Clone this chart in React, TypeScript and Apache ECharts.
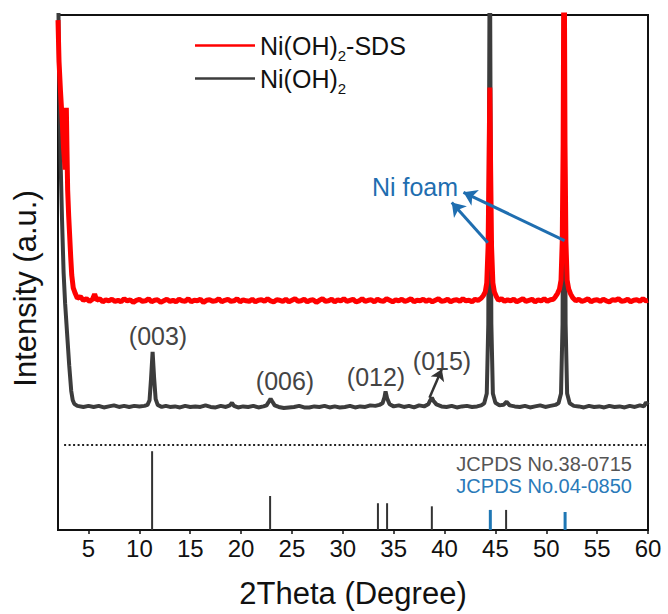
import React, { useEffect, useRef } from "react";
import * as echarts from "echarts";

const FONT = '"Liberation Sans", Arial, sans-serif';

const xTicks = [5, 10, 15, 20, 25, 30, 35, 40, 45, 50, 55, 60];

const sdsName = "Ni(OH)2-SDS";
const plainName = "Ni(OH)2";

// Ni(OH)2 pattern (2theta, intensity a.u.)
const niohPattern: [number, number][] = [
  [2.0, 110], [2.1, 90], [2.25, 72], [2.4, 60], [2.55, 50], [2.7, 44], [2.9, 38], [3.1, 32], [3.3, 27], [3.45, 25.2], [3.6, 24.5], [3.9, 24.1],
  [4.5, 23.9], [5.0, 24.1], [5.5, 23.9], [6.0, 24.1], [6.5, 23.8], [7.0, 24.0], [7.5, 24.2], [8.0, 23.9], [8.5, 24.1], [9.0, 23.9], [9.5, 24.1], [10.0, 24.0], [10.5, 24.1],
  [10.8, 24.3], [11.0, 25.2], [11.15, 29.5], [11.3, 34.6], [11.45, 29.5], [11.6, 25.4], [11.8, 24.3],
  [12.2, 23.9], [12.6, 24.1], [13.0, 23.9], [13.5, 24.0], [14.0, 23.8], [14.5, 24.1], [15.0, 23.9], [15.5, 24.0], [16.0, 23.9], [16.5, 24.2], [17.0, 23.9], [17.5, 23.8], [18.0, 24.1], [18.5, 23.9],
  [18.9, 24.2], [19.1, 24.7], [19.3, 24.1], [19.7, 23.8], [20.2, 24.0], [20.7, 23.9], [21.2, 24.1], [21.7, 23.8], [22.2, 24.0],
  [22.5, 24.2], [22.75, 25.0], [22.9, 25.5], [23.05, 25.0], [23.3, 24.2],
  [23.7, 23.9], [24.2, 23.7], [24.7, 23.8], [25.2, 23.9], [25.7, 24.1], [26.2, 23.8], [26.7, 23.8], [27.2, 24.0], [27.7, 23.9], [28.2, 24.1], [28.7, 23.8], [29.2, 24.0], [29.7, 23.8], [30.2, 23.9], [30.7, 24.1], [31.2, 23.8], [31.7, 24.0], [32.2, 23.9], [32.7, 24.2], [33.2, 24.1],
  [33.6, 24.3], [33.9, 24.6], [34.1, 25.8], [34.2, 26.9], [34.35, 25.6], [34.6, 24.4],
  [35.0, 24.0], [35.5, 24.2], [36.0, 23.9], [36.5, 24.1], [37.0, 23.8], [37.5, 24.2], [38.0, 24.0],
  [38.4, 24.4], [38.6, 25.2], [38.75, 25.7], [38.9, 25.1], [39.2, 24.4],
  [39.7, 24.0], [40.2, 23.9], [40.7, 24.1], [41.2, 23.8], [41.7, 24.0], [42.2, 24.1], [42.7, 23.9], [43.2, 24.0], [43.6, 24.2],
  [43.9, 24.6], [44.15, 26.5], [44.3, 40], [44.45, 120], [44.6, 40], [44.75, 26.5], [45.0, 24.7],
  [45.4, 24.2], [45.8, 24.3], [46.1, 24.9], [46.4, 24.2], [46.9, 24.0], [47.4, 23.9], [47.9, 24.1], [48.4, 23.8], [48.9, 24.0], [49.4, 24.2], [49.9, 23.9], [50.4, 24.1], [50.9, 24.3],
  [51.2, 24.6], [51.45, 26.5], [51.6, 40], [51.75, 120], [51.9, 40], [52.05, 26.5], [52.3, 24.6],
  [52.7, 24.1], [53.2, 24.0], [53.7, 23.8], [54.2, 24.1], [54.7, 23.9], [55.2, 24.0], [55.7, 23.8], [56.2, 24.1], [56.7, 23.9], [57.2, 24.0], [57.7, 23.8], [58.2, 24.1], [58.7, 23.9], [59.2, 24.2], [59.6, 24.0], [59.8, 24.8], [60.0, 24.3],
];

// Ni(OH)2-SDS pattern
const sdsPattern: [number, number][] = [
  [2.0, 99], [2.1, 91], [2.25, 85], [2.4, 80], [2.55, 74], [2.7, 70], [2.75, 77], [2.82, 82], [2.88, 74], [2.95, 66], [3.05, 61], [3.15, 57], [3.25, 53], [3.35, 49.5], [3.5, 47], [3.7, 45.9], [3.9, 45.0],
  [4.2, 45.3], [4.5, 44.6], [4.8, 44.9], [5.1, 44.4], [5.4, 44.8], [5.6, 45.8], [5.8, 44.6], [6.1, 44.9], [6.4, 44.3], [6.7, 44.7], [7.0, 44.5], [7.3, 44.8], [7.6, 44.4], [7.9, 44.6], [8.2, 44.3], [8.5, 44.9], [8.8, 44.5],
  [9.1, 44.7], [9.4, 44.2], [9.7, 44.6], [10.0, 44.8], [10.3, 44.4], [10.6, 44.5], [10.9, 44.9], [11.2, 44.3], [11.5, 44.6], [11.8, 44.7], [12.1, 44.2], [12.4, 44.5], [12.7, 44.8], [13.0, 44.4], [13.3, 44.6], [13.6, 44.3],
  [13.9, 44.8], [14.2, 44.5], [14.5, 44.4], [14.8, 44.9], [15.1, 44.3], [15.4, 44.6], [15.7, 44.5], [16.0, 44.8], [16.3, 44.2], [16.6, 44.6], [16.9, 44.7], [17.2, 44.4], [17.5, 44.5], [17.8, 44.9], [18.1, 44.3], [18.4, 44.6],
  [18.7, 44.8], [19.0, 44.4], [19.3, 44.5], [19.6, 44.9], [19.9, 44.3], [20.2, 44.7], [20.5, 44.5], [20.8, 44.4], [21.1, 44.8], [21.4, 44.3], [21.7, 44.6], [22.0, 44.7], [22.3, 44.4], [22.6, 44.9], [22.9, 44.5], [23.2, 44.3],
  [23.5, 44.7], [23.8, 44.6], [24.1, 44.4], [24.4, 44.8], [24.7, 44.3], [25.0, 44.6], [25.3, 44.9], [25.6, 44.4], [25.9, 44.5], [26.2, 44.8], [26.5, 44.3], [26.8, 44.6], [27.1, 44.7], [27.4, 44.2], [27.7, 44.6], [28.0, 44.9],
  [28.3, 44.4], [28.6, 44.5], [28.9, 44.8], [29.2, 44.3], [29.5, 44.7], [29.8, 44.5], [30.1, 44.9], [30.4, 44.4], [30.7, 44.6], [31.0, 44.8], [31.3, 44.3], [31.6, 44.5], [31.9, 44.9], [32.2, 44.4], [32.5, 44.6], [32.8, 44.7],
  [33.1, 44.3], [33.4, 44.8], [33.7, 44.5], [34.0, 44.4], [34.3, 44.9], [34.6, 44.6], [34.9, 44.3], [35.2, 44.7], [35.5, 44.5], [35.8, 44.8], [36.1, 44.4], [36.4, 44.6], [36.7, 44.9], [37.0, 44.3], [37.3, 44.6], [37.6, 44.5],
  [37.9, 44.8], [38.2, 44.4], [38.5, 44.7], [38.8, 44.3], [39.1, 44.6], [39.4, 44.9], [39.7, 44.4], [40.0, 44.5], [40.3, 44.8], [40.6, 44.3], [40.9, 44.6], [41.2, 44.7], [41.5, 44.4], [41.8, 44.9], [42.1, 44.5], [42.4, 44.6],
  [42.7, 44.3], [43.0, 44.8], [43.3, 44.6], [43.6, 45.0], [43.8, 45.5], [44.0, 46.2], [44.15, 48.0], [44.28, 55], [44.37, 70], [44.45, 85.9], [44.53, 70], [44.62, 55], [44.75, 48.0], [44.9, 46.2], [45.1, 45.3],
  [45.3, 44.6], [45.6, 44.9], [45.9, 44.4], [46.2, 44.7], [46.5, 44.5], [46.8, 44.8], [47.1, 44.3], [47.4, 44.6], [47.7, 44.9], [48.0, 44.4], [48.3, 44.6], [48.6, 44.8], [48.9, 44.3], [49.2, 44.7], [49.5, 44.5], [49.8, 44.9],
  [50.1, 44.4], [50.4, 44.7], [50.7, 44.8], [50.9, 45.3], [51.1, 45.9], [51.3, 46.8], [51.45, 48.5], [51.57, 56], [51.66, 75], [51.75, 120], [51.84, 75], [51.93, 56], [52.05, 48.5], [52.2, 46.8], [52.4, 45.8], [52.6, 45.1],
  [52.9, 44.5], [53.2, 44.8], [53.5, 44.4], [53.8, 44.6], [54.1, 44.9], [54.4, 44.3], [54.7, 44.6], [55.0, 44.7], [55.3, 44.4], [55.6, 44.8], [55.9, 44.5], [56.2, 44.3], [56.5, 44.7], [56.8, 44.6], [57.1, 44.9], [57.4, 44.4],
  [57.7, 44.5], [58.0, 44.8], [58.3, 44.3], [58.6, 44.6], [58.9, 44.7], [59.2, 44.4], [59.5, 44.9], [59.8, 44.5], [60.0, 44.6],
];

// Reference sticks (2theta, relative height)
const jcpds380715: [number, number][] = [
  [11.3, 15.3], [22.9, 6.6], [33.5, 5.2], [34.4, 5.2], [38.8, 4.6], [46.1, 3.9],
];
const jcpds040850: [number, number][] = [
  [44.5, 3.9], [51.85, 3.5],
];

const separatorLevel = 16.6;

export default function App() {
  const ref = useRef<HTMLDivElement>(null);
  useEffect(() => {
    if (!ref.current) return;
    const chart = echarts.init(ref.current, undefined, { renderer: "svg" });
    const grey = "#3c3c3c";
    const blue = "#1f6eb0";
    const option: any = {
      animation: false,
      backgroundColor: "#fff",
      grid: {
        left: 58, right: 20, top: 15, bottom: 82,
        show: true, borderColor: "#111", borderWidth: 2, backgroundColor: "transparent",
      },
      legend: {
        data: [sdsName, plainName],
        orient: "vertical",
        left: 190,
        top: 28,
        itemWidth: 60,
        itemHeight: 14,
        itemGap: 3,
        icon: "path://M0,6L60,6L60,8.5L0,8.5Z",
        formatter: (name: string) =>
          name === sdsName ? "{a|Ni(OH)}{s|2}{a|-SDS}" : "{a|Ni(OH)}{s|2}",
        textStyle: {
          rich: {
            a: { fontSize: 25, fontFamily: FONT, color: "#111" },
            s: { fontSize: 15, fontFamily: FONT, color: "#111", padding: [20, 0, 0, 0] },
          },
        },
      },
      xAxis: {
        type: "value",
        min: 2,
        max: 60,
        name: "2Theta (Degree)",
        nameLocation: "middle",
        nameGap: 48,
        nameTextStyle: { fontSize: 31, fontFamily: FONT, color: "#111" },
        axisLine: { show: true, onZero: false, lineStyle: { color: "#111", width: 2 } },
        axisTick: { show: true, length: 4, customValues: xTicks, lineStyle: { color: "#111", width: 1.5 } },
        axisLabel: { customValues: xTicks, fontSize: 24, fontFamily: FONT, color: "#111", margin: 6 },
        splitLine: { show: false },
      },
      yAxis: {
        type: "value",
        min: 0,
        max: 100,
        name: "Intensity (a.u.)",
        nameLocation: "middle",
        nameGap: 17,
        nameTextStyle: { fontSize: 31, fontFamily: FONT, color: "#111", padding: [0, 32, 0, 0] },
        axisLine: { show: true, lineStyle: { color: "#111", width: 2 } },
        axisTick: { show: false },
        axisLabel: { show: false },
        splitLine: { show: false },
      },
      series: [
        {
          name: plainName,
          type: "line",
          data: niohPattern,
          symbol: "none",
          lineStyle: { color: grey, width: 4 },
          itemStyle: { color: grey },
          z: 2,
          markLine: {
            silent: true,
            symbol: ["none", "none"],
            label: { show: false },
            data: [
              [
                { coord: [2.6, separatorLevel], lineStyle: { color: "#222", width: 2, type: [2, 2.5] } },
                { coord: [59.8, separatorLevel] },
              ],
              [
                { coord: [38.52, 25.7], symbol: "none", lineStyle: { color: "#333", width: 2.5, type: "solid" } },
                { coord: [39.73, 31.2], symbol: "arrow", symbolSize: 11 },
              ],
            ],
          },
        },
        {
          name: sdsName,
          type: "line",
          data: sdsPattern,
          symbol: "none",
          lineStyle: { color: "#ff0000", width: 5 },
          itemStyle: { color: "#ff0000" },
          z: 3,
          markLine: {
            silent: true,
            symbol: ["none", "arrow"],
            symbolSize: 13,
            label: { show: false },
            lineStyle: { color: blue, width: 3, type: "solid" },
            data: [
              [{ coord: [44.25, 55.8] }, { coord: [40.71, 63.6] }],
              [{ coord: [51.8, 56.2] }, { coord: [41.86, 65.57] }],
            ],
          },
        },
        {
          name: "JCPDS No.38-0715",
          type: "bar",
          data: jcpds380715,
          barWidth: 2,
          barGap: "-100%",
          itemStyle: { color: "#333" },
        },
        {
          name: "JCPDS No.04-0850",
          type: "bar",
          data: jcpds040850,
          barWidth: 3,
          barGap: "-100%",
          itemStyle: { color: "#1f77b4" },
        },
      ],
      graphic: [
        { type: "text", x: 158, y: 336, style: { text: "(003)", fill: "#444", fontSize: 25, fontFamily: FONT, align: "center", verticalAlign: "middle" } },
        { type: "text", x: 285, y: 381, style: { text: "(006)", fill: "#444", fontSize: 25, fontFamily: FONT, align: "center", verticalAlign: "middle" } },
        { type: "text", x: 376, y: 377, style: { text: "(012)", fill: "#444", fontSize: 25, fontFamily: FONT, align: "center", verticalAlign: "middle" } },
        { type: "text", x: 442, y: 361, style: { text: "(015)", fill: "#444", fontSize: 25, fontFamily: FONT, align: "center", verticalAlign: "middle" } },
        { type: "text", x: 415, y: 187, style: { text: "Ni foam", fill: blue, fontSize: 25, fontFamily: FONT, align: "center", verticalAlign: "middle" } },
        { type: "text", x: 632, y: 464, style: { text: "JCPDS No.38-0715", fill: "#555", fontSize: 20, fontFamily: FONT, align: "right", verticalAlign: "middle" } },
        { type: "text", x: 632, y: 486, style: { text: "JCPDS No.04-0850", fill: "#2a7ab9", fontSize: 20, fontFamily: FONT, align: "right", verticalAlign: "middle" } },
      ],
    };
    chart.setOption(option);
    return () => chart.dispose();
  }, []);
  return (
    <div
      ref={ref}
      style={{ position: "fixed", left: 0, top: 0, width: 668, height: 614, background: "#fff" }}
    />
  );
}
